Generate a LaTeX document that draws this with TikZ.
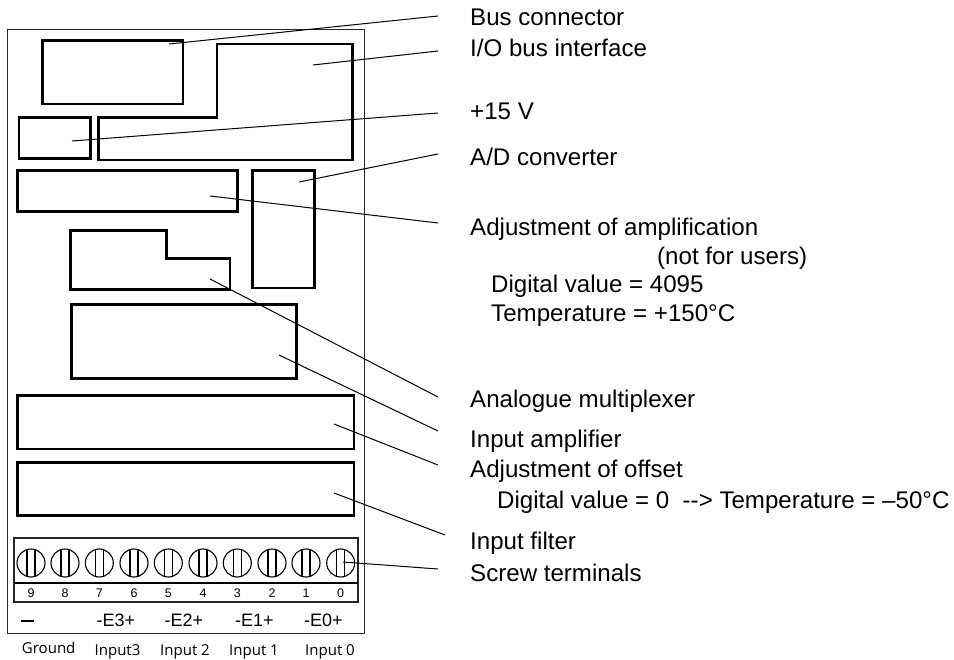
\documentclass[tikz,border=0pt]{standalone}
\usepackage{fontspec}
\setmainfont{Liberation Sans}
\newfontfamily\labfont{Open Sans}
\tikzset{
  x=1pt,y=-1pt,
  frame/.style={draw=black!85,line width=1pt},
  block/.style={draw=black,line width=2.6pt,miter limit=10},
  leader/.style={draw=black,line width=1pt},
  lab/.style={anchor=base west,inner sep=0pt,font=\fontsize{24.1}{27}\selectfont},
  num/.style={anchor=base,inner sep=0pt,font=\fontsize{12.5}{14}\selectfont},
  elab/.style={anchor=base,inner sep=0pt,font=\fontsize{18}{20}\selectfont},
  inlab/.style={anchor=base,inner sep=0pt,font=\labfont\fontsize{15}{18}\selectfont},
  screw/.style={circle,draw=black,line width=1.1pt,minimum size=28pt,inner sep=0pt},
  termbox/.style={draw=black!85,line width=1.3pt},
}
\newcommand{\screwat}[2]{%
  \node[screw] (s#2) at (#1,563) {};
  \draw[line width=1.1pt] (#1-4,549.6) -- (#1-4,576.4) (#1+4,549.6) -- (#1+4,576.4);
}
\begin{document}
\begin{tikzpicture}
\useasboundingbox (0,0) rectangle (954,660);
\draw[frame] (7.5,30) rectangle (364.5,633);
\draw[block] (42.5,40.5) rectangle (183,104);
\draw[block] (216.8,44) -- (352.3,44) -- (352.3,160) -- (98.3,160) -- (98.3,117.5) -- (216.8,117.5) -- cycle;
\draw[block] (19,117.7) rectangle (90.7,158.7);
\draw[block] (17.7,170.3) rectangle (237.3,211.3);
\draw[block] (252.3,170.3) rectangle (314.3,288);
\draw[block] (70.7,230.7) -- (166.7,230.7) -- (166.7,258.7) -- (230,258.7) -- (230,289.7) -- (70.7,289.7) -- cycle;
\draw[block] (71.3,304.3) rectangle (296.7,378.3);
\draw[block] (17.3,395.7) rectangle (354,449);
\draw[block] (17.3,462.3) rectangle (354,515.7);
\draw[termbox] (14,538) rectangle (358,602);
\draw[line width=1.5pt] (14,583) -- (358,583);
\foreach \x/\n in {31/9,65/8,99.3/7,134/6,168.3/5,203/4,237.3/3,272/2,306/1,340.7/0}{
  \screwat{\x}{\n}
  \node[num] (n\n) at (\x,597) {\n};
}
\node[elab] (eg) at (27.5,626) {\rule[4.2pt]{13.5pt}{1.6pt}};
\node[elab] (e3) at (116,626) {-E3+};
\node[elab] (e2) at (184,626) {-E2+};
\node[elab] (e1) at (254.3,626) {-E1+};
\node[elab] (e0) at (323.3,626) {-E0+};
\node[inlab] (i9) at (48.7,653) {Ground};
\node[inlab] (i3) at (117.5,655) {Input3};
\node[inlab] (i2) at (185,655) {Input 2};
\node[inlab] (i1) at (254,655) {Input 1};
\node[inlab] (i0) at (330,655) {Input 0};
\node[lab] (l1) at (470,26) {Bus connector};
\node[lab] (l2) at (470,57) {I/O bus interface};
\node[lab] (l3) at (470,120) {+15 V};
\node[lab] (l4) at (470,166) {A/D converter};
\node[lab] (l5) at (470,236) {Adjustment of amplification};
\node[lab] (l5b) at (657,265) {(not for users)};
\node[lab] (l5c) at (491,293) {Digital value = 4095};
\node[lab] (l5d) at (491,322) {Temperature = +150°C};
\node[lab] (l6) at (470,408) {Analogue multiplexer};
\node[lab] (l7) at (470,447.5) {Input amplifier};
\node[lab] (l8) at (470,478) {Adjustment of offset};
\node[lab] (l8b) at (497,508) {Digital value = 0\ \ {-}{-}> Temperature = –50°C};
\node[lab] (l9) at (470,549) {Input filter};
\node[lab] (l10) at (470,581) {Screw terminals};
\coordinate (c1) at (438,16); \coordinate (d1) at (169,44);
\coordinate (c2) at (438,51); \coordinate (d2) at (313,65);
\coordinate (c3) at (438,113); \coordinate (d3) at (72,141);
\coordinate (c4) at (438,154); \coordinate (d4) at (299,182);
\coordinate (c5) at (438,223); \coordinate (d5) at (210,196);
\coordinate (c6) at (438,397); \coordinate (d6) at (210,279);
\coordinate (c7) at (438,431); \coordinate (d7) at (279,355);
\coordinate (c8) at (438,465); \coordinate (d8) at (334,424);
\coordinate (c9) at (445,535); \coordinate (d9) at (334,493);
\coordinate (c10) at (438,569); \coordinate (d10) at (343,562);
\foreach \i in {1,...,10}{\draw[leader] (c\i) -- (d\i);}
\end{tikzpicture}
\end{document}
